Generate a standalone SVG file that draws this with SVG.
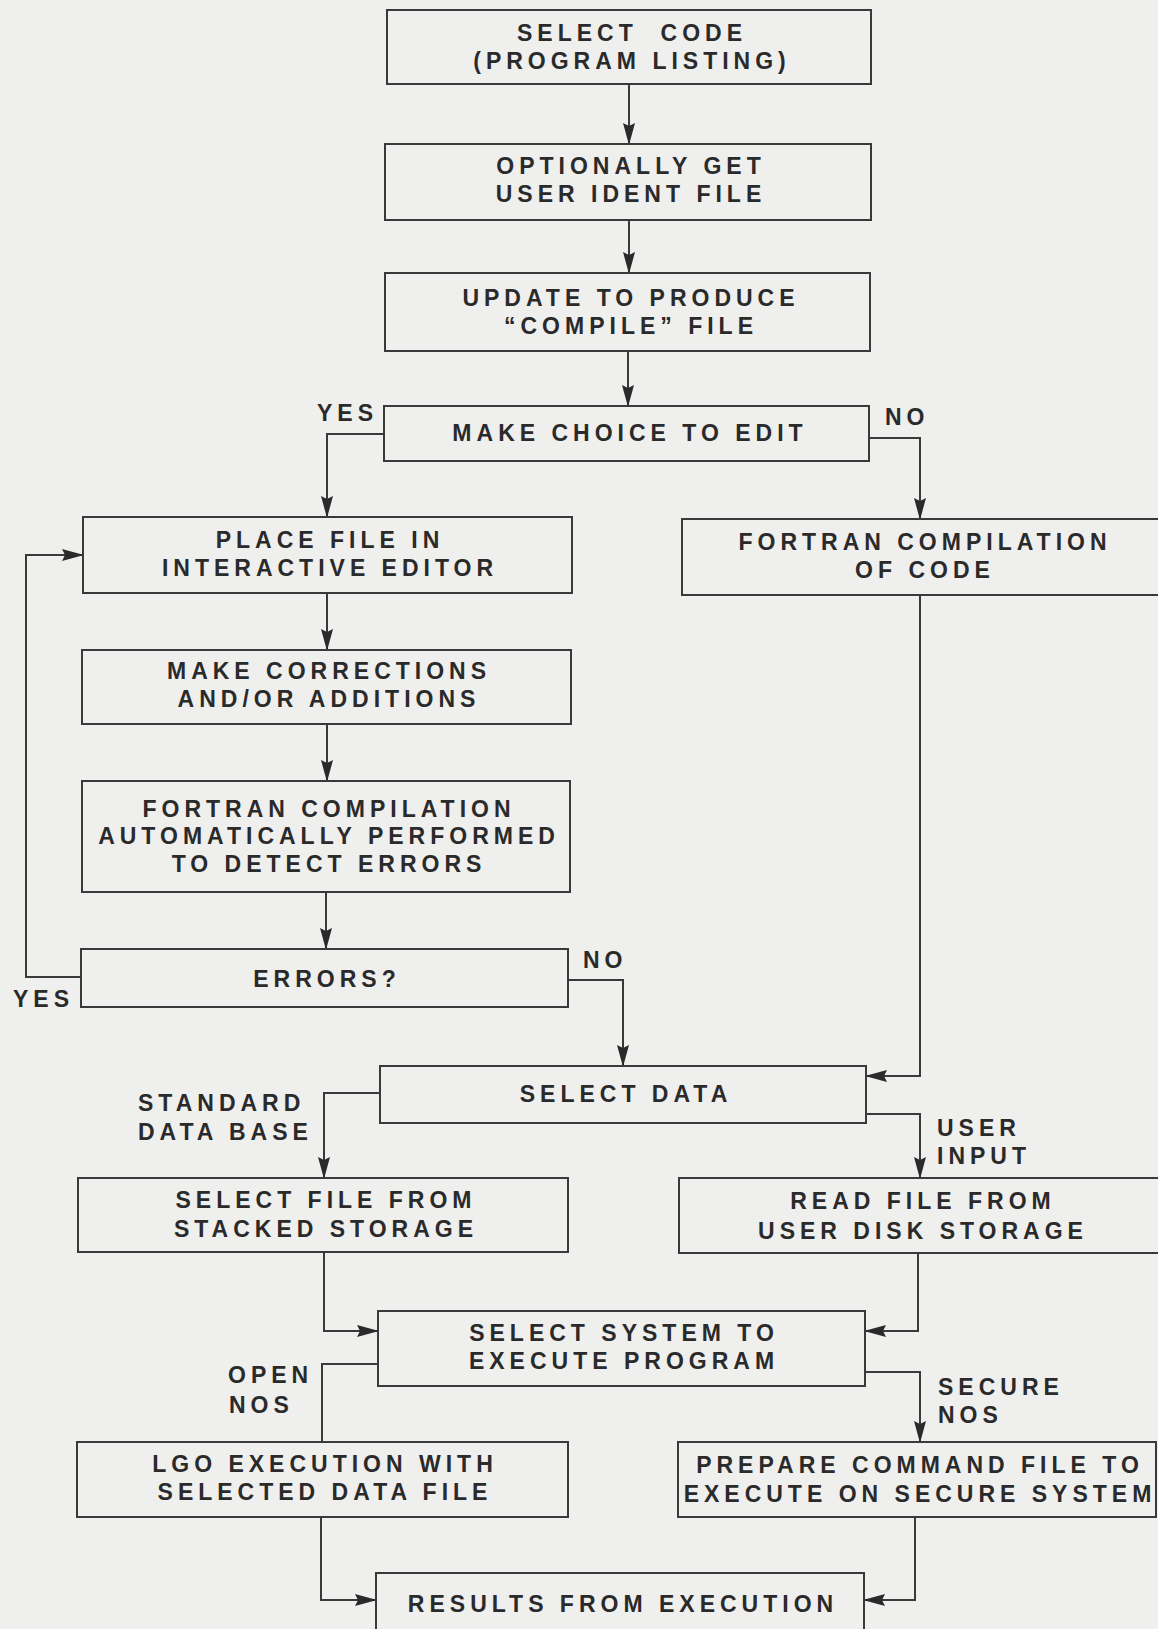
<svg xmlns="http://www.w3.org/2000/svg" width="1158" height="1629" viewBox="0 0 1158 1629">
<style>
.bg{fill:#efefee}
.node rect{fill:none;stroke:#3a3a3a;stroke-width:2}
text{font-family:"Liberation Sans",Arial,Helvetica,sans-serif;font-weight:bold;font-size:23px;letter-spacing:5px;fill:#2a2a2a}
.c{text-anchor:middle}
#edges path{fill:none;stroke:#3a3a3a;stroke-width:2}
#edges path.a{marker-end:url(#ah)}
</style>
<defs>
<marker id="ah" viewBox="0 0 22 12" markerWidth="22" markerHeight="12" refX="21" refY="6" orient="auto" markerUnits="userSpaceOnUse">
<path d="M0,0 L22,6 L0,12 L3,6 z" fill="#2a2a2a"/>
</marker>
</defs>
<rect class="bg" x="0" y="0" width="1158" height="1629"/>

<g id="edges">
<path class="a" d="M629,84 V144"/>
<path class="a" d="M629,220 V273"/>
<path class="a" d="M628,351 V406"/>
<path class="a" d="M384,434 H327 V517"/>
<path class="a" d="M869,438 H920 V519"/>
<path class="a" d="M327,593 V650"/>
<path class="a" d="M327,724 V781"/>
<path class="a" d="M326,892 V949"/>
<path class="a" d="M81,977 H26 V555 H83"/>
<path class="a" d="M568,980 H623 V1066"/>
<path class="a" d="M920,595 V1076 H866"/>
<path class="a" d="M380,1093 H324 V1178"/>
<path class="a" d="M866,1114 H920 V1178"/>
<path class="a" d="M324,1252 V1331 H378"/>
<path class="a" d="M918,1253 V1331 H865"/>
<path d="M378,1364 H322 V1442"/>
<path class="a" d="M865,1372 H920 V1442"/>
<path class="a" d="M321,1517 V1600 H376"/>
<path class="a" d="M915,1517 V1600 H864"/>
</g>

<g id="labels">
<text x="317" y="421">YES</text>
<text x="885" y="425">NO</text>
<text x="13" y="1007">YES</text>
<text x="583" y="968">NO</text>
<text x="138" y="1111">STANDARD</text>
<text x="138" y="1140">DATA BASE</text>
<text x="937" y="1136">USER</text>
<text x="937" y="1164">INPUT</text>
<text x="228" y="1383">OPEN</text>
<text x="229" y="1413">NOS</text>
<text x="938" y="1395">SECURE</text>
<text x="938" y="1423">NOS</text>
</g>

<g id="n1" class="node"><rect x="387" y="10" width="484" height="74"/>
<text class="c" x="632" y="41">SELECT&#160; CODE</text><text class="c" x="632" y="69">(PROGRAM LISTING)</text></g>
<g id="n2" class="node"><rect x="385" y="144" width="486" height="76"/>
<text class="c" x="631" y="174">OPTIONALLY GET</text><text class="c" x="631" y="202">USER IDENT FILE</text></g>
<g id="n3" class="node"><rect x="385" y="273" width="485" height="78"/>
<text class="c" x="631" y="306">UPDATE TO PRODUCE</text><text class="c" x="631" y="334">“COMPILE” FILE</text></g>
<g id="n4" class="node"><rect x="384" y="406" width="485" height="55"/>
<text class="c" x="630" y="441">MAKE CHOICE TO EDIT</text></g>
<g id="n5" class="node"><rect x="83" y="517" width="489" height="76"/>
<text class="c" x="330" y="548">PLACE FILE IN</text><text class="c" x="330" y="576">INTERACTIVE EDITOR</text></g>
<g id="n6" class="node"><rect x="682" y="519" width="480" height="76"/>
<text class="c" x="925" y="550">FORTRAN COMPILATION</text><text class="c" x="925" y="578">OF CODE</text></g>
<g id="n7" class="node"><rect x="82" y="650" width="489" height="74"/>
<text class="c" x="329" y="679">MAKE CORRECTIONS</text><text class="c" x="329" y="707">AND/OR ADDITIONS</text></g>
<g id="n8" class="node"><rect x="82" y="781" width="488" height="111"/>
<text class="c" x="329" y="817">FORTRAN COMPILATION</text><text class="c" x="329" y="844">AUTOMATICALLY PERFORMED</text><text class="c" x="329" y="872">TO DETECT ERRORS</text></g>
<g id="n9" class="node"><rect x="81" y="949" width="487" height="58"/>
<text class="c" x="327" y="987">ERRORS?</text></g>
<g id="n10" class="node"><rect x="380" y="1066" width="486" height="57"/>
<text class="c" x="626" y="1102">SELECT DATA</text></g>
<g id="n11" class="node"><rect x="78" y="1178" width="490" height="74"/>
<text class="c" x="326" y="1208">SELECT FILE FROM</text><text class="c" x="326" y="1237">STACKED STORAGE</text></g>
<g id="n12" class="node"><rect x="679" y="1178" width="483" height="75"/>
<text class="c" x="923" y="1209">READ FILE FROM</text><text class="c" x="923" y="1239">USER DISK STORAGE</text></g>
<g id="n13" class="node"><rect x="378" y="1311" width="487" height="75"/>
<text class="c" x="624" y="1341">SELECT SYSTEM TO</text><text class="c" x="624" y="1369">EXECUTE PROGRAM</text></g>
<g id="n14" class="node"><rect x="77" y="1442" width="491" height="75"/>
<text class="c" x="325" y="1472">LGO EXECUTION WITH</text><text class="c" x="325" y="1500">SELECTED DATA FILE</text></g>
<g id="n15" class="node"><rect x="678" y="1442" width="478" height="75"/>
<text class="c" x="920" y="1473">PREPARE COMMAND FILE TO</text><text class="c" x="920" y="1502">EXECUTE ON SECURE SYSTEM</text></g>
<g id="n16" class="node"><rect x="376" y="1573" width="488" height="70"/>
<text class="c" x="623" y="1612">RESULTS FROM EXECUTION</text></g>
</svg>
